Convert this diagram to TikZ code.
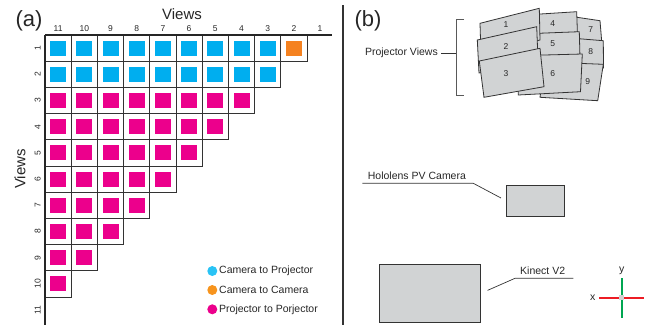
\documentclass[tikz,border=0pt]{standalone}
\usepackage{fontspec}
\setmainfont{Liberation Sans}
\usepackage{tikz}
\usepackage{xcolor}
\definecolor{camproj}{HTML}{00AEEF}
\definecolor{camcam}{HTML}{F58220}
\definecolor{projproj}{HTML}{EC008C}
\definecolor{legcyan}{HTML}{29C3F5}
\definecolor{legorange}{HTML}{F7941D}
\definecolor{panel}{HTML}{D1D3D4}
\definecolor{edge}{HTML}{333333}
\definecolor{xaxis}{RGB}{237,28,36}
\definecolor{yaxis}{RGB}{0,166,81}

\begin{document}
\begin{tikzpicture}[x=1pt,y=-1pt,
  cell/.style={draw=edge, line width=1pt, fill=white, minimum size=26.2pt, inner sep=0pt, outer sep=0pt},
  pair/.style={minimum width=16pt, minimum height=15pt, inner sep=0pt},
  lbl/.style={font=\fontsize{10.5}{12}\selectfont, text=black!85, inner sep=0pt},
  num/.style={font=\fontsize{8.5}{10}\selectfont, text=black!85, inner sep=0pt},
  big/.style={font=\fontsize{22}{24}\selectfont, text=black!85, inner sep=0pt},
  view/.style={draw=edge, line width=0.8pt, fill=panel},
  lead/.style={draw=black!80, line width=0.7pt}]
\useasboundingbox (0,0) rectangle (654,325);

% (a) pairwise views
\foreach \r in {1,...,10} {
  \pgfmathtruncatemacro{\n}{11-\r}
  \foreach \c in {1,...,\n} {
    \ifnum\r<3 \def\clr{camproj}\else\def\clr{projproj}\fi
    \ifnum\r=1 \ifnum\c=10 \def\clr{camcam}\fi\fi
    \node[cell] (c\r-\c) at ({45+26.2*(\c-0.5)},{35+26.2*(\r-0.5)}) {};
    \node[pair, fill=\clr] at (c\r-\c) {};
  }
}
\draw[line width=2.4pt, black!85] (45,35) -- (332,35);
\draw[line width=2.4pt, black!85] (45,35) -- (45,325);

\foreach \v [count=\i] in {11,10,...,1}
  \node[num] (col\v) at ({45+26.2*(\i-0.5)},29) {\v};
\foreach \r in {1,...,11}
  \node[num, rotate=90] (row\r) at (37.7,{35+26.2*(\r-0.5)}) {\r};

\node[font=\fontsize{15}{17}\selectfont, text=black!85, inner sep=0pt] (vtop) at (182,14) {Views};
\node[font=\fontsize{15}{17}\selectfont, text=black!85, inner sep=0pt, rotate=90] (vleft) at (20,169) {Views};
\node[big] (a) at (29,21) {(a)};

% legend
\fill[legcyan] (212.3,271) circle (5);
\fill[legorange] (212.3,290) circle (5);
\fill[projproj] (212.3,309.3) circle (5);
\node[lbl, anchor=west] (l1) at (219,271) {Camera to Projector};
\node[lbl, anchor=west] (l2) at (219,290) {Camera to Camera};
\node[lbl, anchor=west] (l3) at (219,309.3) {Projector to Porjector};

% divider
\draw[line width=2pt, black!80] (343,5) -- (343,325);

% (b) setup
\node[big] (b) at (368,21) {(b)};

\node[lbl, anchor=east] (pv) at (438,53) {Projector Views};
\coordinate (brk) at (456,53);
\draw[lead, shorten <=3pt] (pv.east) -- (brk);
\draw[draw=black!65, line width=0.8pt] (464,19) -- (456,19) -- (456,95) -- (464,95);

% projector views, back to front
\draw[view] (565,15.5) -- (600,20.7) -- (602,45) -- (567,45) -- cycle;
\draw[view] (570,38) -- (603.3,40.7) -- (603.5,68) -- (570,68) -- cycle;
\draw[view] (545,62) -- (603.3,64.3) -- (597.7,100.7) -- (540,97.3) -- cycle;
\draw[view] (520,15.3) -- (576.7,11.7) -- (577.5,36) -- (520,37) -- cycle;
\draw[view] (520,34) -- (579.3,31.7) -- (580,58) -- (520,58) -- cycle;
\draw[view] (518,55.7) -- (582.3,54) -- (580.5,91.7) -- (518.3,95) -- cycle;
\draw[view] (480,23.3) -- (539.3,8.3) -- (540,40) -- (481,55) -- cycle;
\draw[view] (477.3,40) -- (536.7,26.7) -- (538,60) -- (479,73) -- cycle;
\draw[view] (479.3,61) -- (540,48.3) -- (544,86.7) -- (484,97.3) -- cycle;
\node[num] (p1) at (506,25) {1};
\node[num] (p2) at (506,46.7) {2};
\node[num] (p3) at (506,73.3) {3};
\node[num] (p4) at (552.7,24) {4};
\node[num] (p5) at (552.7,44) {5};
\node[num] (p6) at (552.7,73.3) {6};
\node[num] (p7) at (590.7,29.3) {7};
\node[num] (p8) at (590.7,51.7) {8};
\node[num] (p9) at (587.7,81.7) {9};

% hololens camera
\node[view, minimum width=57.3pt, minimum height=31.7pt, inner sep=0pt] (holo) at (535.3,200.8) {};
\node[lbl, anchor=west] (hl) at (367.7,176) {Hololens PV Camera};
\coordinate (hl1) at (362.3,183.3);
\coordinate (hl2) at (473.3,183.3);
\draw[lead, shorten >=6pt] (hl1) -- (hl2) -- (holo.west);

% kinect
\node[view, minimum width=101.4pt, minimum height=58.3pt, inner sep=0pt] (kin) at (430,293.2) {};
\node[lbl, anchor=west] (kl) at (520,271) {Kinect V2};
\coordinate (kl1) at (573.3,278.3);
\coordinate (kl2) at (515,278.3);
\draw[lead, shorten >=7pt] (kl1) -- (kl2) -- (kin.east);

% axes
\coordinate (o) at (621.7,297.7);
\fill[xaxis] (599,296.9) rectangle (644.3,298.5);
\fill[yaxis] (620.9,278.3) rectangle (622.5,318.3);
\node[fill=black!18, minimum size=5pt, inner sep=0pt] (oc) at (o) {};
\node[lbl] (ax) at (592.7,297.7) {x};
\node[lbl] (ay) at (621.7,270.5) {y};
\end{tikzpicture}
\end{document}
